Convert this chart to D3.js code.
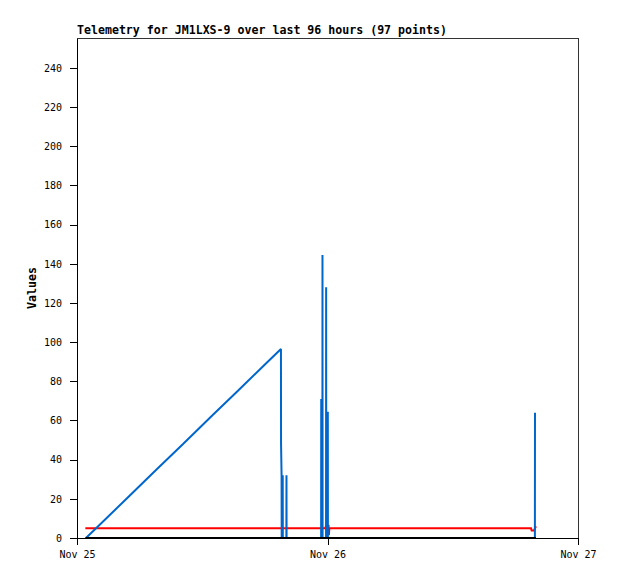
<!DOCTYPE html>
<html>
<head>
<meta charset="utf-8">
<script src="https://cdn.jsdelivr.net/npm/d3@7"></script>
<style>
  body { margin: 0; background: #fff; }
  text { font-family: "DejaVu Sans Mono", "Liberation Mono", monospace; }
</style>
</head>
<body>
<div id="chart"></div>
<script>
// hours after Nov 25 00:00 for each point, and the values
var blueHours = [0.86, 2.20, 4.89, 7.57, 10.16, 12.93, 15.42, 18.20, 19.54, 19.55, 19.60, 19.61,
                 19.70, 19.71, 19.72, 20.06, 20.07, 20.08,
                 23.39, 23.40, 23.41, 23.51, 23.52, 23.53, 23.86, 23.87, 23.88,
                 24.02, 24.03, 24.04, 43.87, 43.88];
var blueValues = [0, 6.9, 20.8, 34.7, 48.0, 62.4, 75.2, 89.6, 96.5, 48, 32, 0,
                  0, 32, 0, 0, 32, 0,
                  0, 71, 0, 0, 144.5, 0, 0, 128, 0,
                  0, 64.5, 0, 0, 64];

var redHours = [0.8, 23.8, 23.85, 24.1, 24.13, 24.18, 43.5, 43.56, 43.78, 43.97];
var redValues = [5, 5, 6.2, 6.2, 1.5, 5, 5, 3.8, 3.8, 6];

var blackHours = [0.8, 43.97];
var blackValues = [0, 0];

var yTicks = [0, 20, 40, 60, 80, 100, 120, 140, 160, 180, 200, 220, 240];
var titleText = "Telemetry for JM1LXS-9 over last 96 hours (97 points)";

var W = 618, H = 579,
    margin = {top: 38, right: 40, bottom: 41, left: 77},
    width = W - margin.left - margin.right,
    height = H - margin.top - margin.bottom;

var t0 = new Date(2023, 10, 25), t1 = new Date(2023, 10, 27);
function hourDate(h) { return new Date(t0.getTime() + h * 3600e3); }

var x = d3.scaleTime().domain([t0, t1]).range([0, width]);
var y = d3.scaleLinear().domain([0, 255.3]).range([height, 0]);

var svg = d3.select("#chart").append("svg")
    .attr("width", W)
    .attr("height", H);

svg.append("rect").attr("width", W).attr("height", H).attr("fill", "#fff");

var g = svg.append("g")
    .attr("transform", "translate(" + margin.left + "," + margin.top + ")");

// frame top and right
g.append("path")
    .attr("d", "M0,0.5H" + (width + 0.5) + "V" + height)
    .attr("fill", "none")
    .attr("stroke", "#333")
    .attr("shape-rendering", "crispEdges");

function series(hours, values) {
    return hours.map(function(h, i) { return {t: hourDate(h), v: values[i]}; });
}

var line = d3.line()
    .x(function(d) { return x(d.t); })
    .y(function(d) { return y(d.v); });

g.append("path")
    .datum(series(redHours, redValues))
    .attr("fill", "none").attr("stroke", "#ff0000").attr("stroke-width", 2)
    .attr("d", line);

g.append("path")
    .datum(series(blueHours, blueValues))
    .attr("fill", "none").attr("stroke", "#0066cc").attr("stroke-width", 2)
    .attr("stroke-linejoin", "bevel")
    .attr("d", line);

g.append("path")
    .datum(series(blackHours, blackValues))
    .attr("fill", "none").attr("stroke", "#000").attr("stroke-width", 2)
    .attr("d", line);

// axes
var yAxis = g.append("g")
    .call(d3.axisLeft(y).tickValues(yTicks).tickSize(7).tickPadding(8));

var xAxis = g.append("g")
    .attr("transform", "translate(0," + height + ")")
    .call(d3.axisBottom(x).ticks(d3.timeDay.every(1)).tickFormat(d3.timeFormat("%b %d"))
          .tickSize(7).tickPadding(6));

[yAxis, xAxis].forEach(function(a) {
    a.select(".domain").attr("stroke", "#000").attr("shape-rendering", "crispEdges");
    a.selectAll(".tick line").attr("stroke", "#000").attr("shape-rendering", "crispEdges");
    a.selectAll("text")
        .attr("fill", "#000")
        .style("font-family", "'DejaVu Sans Mono', monospace")
        .style("font-size", "10px");
});
// domain path of bottom axis without the end ticks
xAxis.select(".domain").attr("d", "M0.5,0.5H" + (width + 0.5));
yAxis.select(".domain").attr("d", "M0.5," + height + "V0.5");

// title
svg.append("text")
    .attr("x", margin.left)
    .attr("y", 34)
    .style("font-size", "11.6px")
    .style("font-weight", "bold")
    .text(titleText);

// y label
svg.append("text")
    .attr("transform", "translate(36," + (margin.top + height / 2) + ") rotate(-90)")
    .attr("text-anchor", "middle")
    .style("font-size", "11.6px")
    .style("font-weight", "bold")
    .text("Values");
</script>
</body>
</html>
